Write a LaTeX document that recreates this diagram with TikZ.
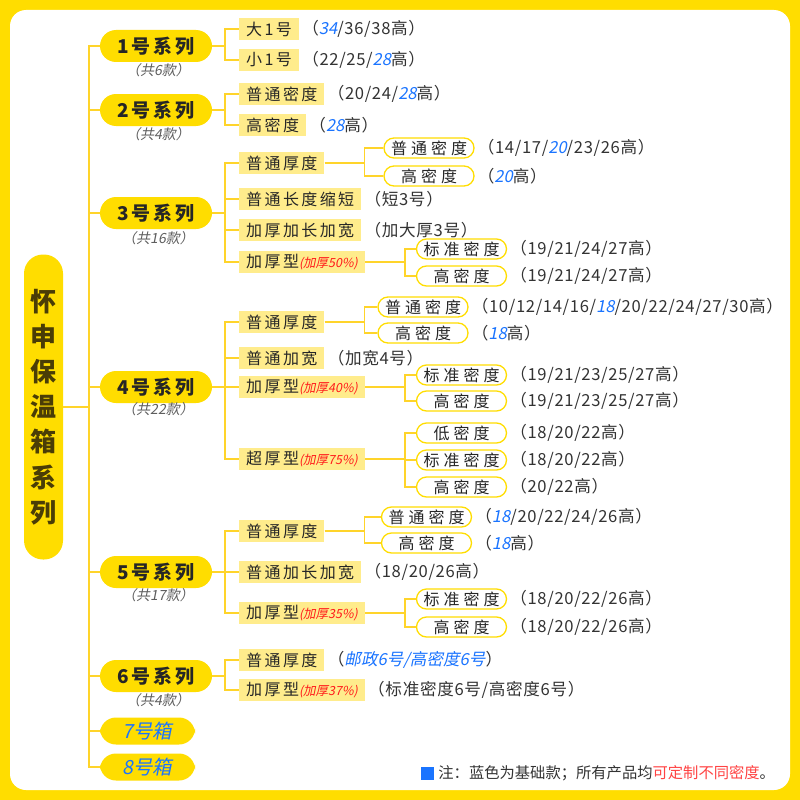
\documentclass[tikz,border=0pt]{standalone}
\usepackage{fontspec}
\setmainfont{Noto Sans CJK SC}
\newfontfamily\cjk{Noto Sans CJK SC}
\newfontfamily\spaced[LetterSpace=15]{Noto Sans CJK SC}
\newfontfamily\wide[LetterSpace=25]{Noto Sans CJK SC}
\newfontfamily\valfont[LetterSpace=4]{Noto Sans CJK SC}
\newfontfamily\slfont[FakeSlant=0.2]{Noto Sans CJK SC}
\usetikzlibrary{positioning}

\definecolor{mainY}{HTML}{FFDD00}
\definecolor{lineY}{HTML}{FFD42A}
\definecolor{lightY}{HTML}{FFEC8C}
\definecolor{blueC}{HTML}{1A74FF}
\definecolor{redC}{HTML}{FF1A1A}
\definecolor{redN}{HTML}{FF4343}
\definecolor{grayC}{HTML}{5E5E5E}
\definecolor{txtDark}{HTML}{262626}
\definecolor{txtVal}{HTML}{333333}
\definecolor{rootTxt}{HTML}{4A3D06}

\newcommand\blu[1]{{\color{blueC}\slfont #1}}
\newcommand\pct[1]{{\color{redC}\slfont\fontsize{12.5}{14}\selectfont(#1)}}

\begin{document}
\begin{tikzpicture}[
    x=1pt, y=-1pt,
    font=\cjk\fontsize{16}{19}\selectfont,
    ln/.style={draw=lineY, line width=1.6pt},
    rootbox/.style={rectangle, rounded corners=19pt, fill=mainY, minimum width=39pt, minimum height=305pt, inner sep=0pt, align=center, font=\cjk\bfseries\fontsize{26}{35.2}\selectfont, text=rootTxt},
    series/.style={rectangle, rounded corners=16pt, fill=mainY, minimum width=112pt, minimum height=32pt, inner sep=0pt, font=\spaced\bfseries\fontsize{19}{22}\selectfont, text=txtDark},
    boxnum/.style={series, minimum width=95pt, minimum height=27pt, font=\slfont\fontsize{19.5}{22}\selectfont, text=blueC},
    cnt/.style={inner sep=0pt, font=\slfont\fontsize{14}{16}\selectfont, text=grayC},
    kind/.style={rectangle, fill=lightY, anchor=west, minimum height=22pt, inner xsep=7pt, inner ysep=0pt, font=\spaced\fontsize{16}{19}\selectfont, text=txtDark},
    dens/.style={rectangle, rounded corners=10pt, draw=mainY, line width=1.3pt, fill=white, minimum width=90pt, minimum height=20pt, inner sep=0pt, font=\wide\fontsize{16}{19}\selectfont, text=txtDark},
    val/.style={anchor=west, inner sep=0pt, xshift=3pt, text=txtVal, font=\valfont\fontsize{16.6}{19}\selectfont}
]

%% ── Frame ────────────────────────────────────────────────────────────────────
\fill[mainY] (0,0) rectangle (800,800);
\fill[white, rounded corners=16pt] (10,10) rectangle (790,790);

%% ── Root ─────────────────────────────────────────────────────────────────────
\node[rootbox] (root) at (43.5,407) {怀\\申\\保\\温\\箱\\系\\列};

%% ── Series pills (x=156) ─────────────────────────────────────────────────────
\node[series] (s1) at (156,46)  {1号系列};
\node[series] (s2) at (156,110) {2号系列};
\node[series] (s3) at (156,213) {3号系列};
\node[series] (s4) at (156,387) {4号系列};
\node[series] (s5) at (156,572) {5号系列};
\node[series] (s6) at (156,676) {6号系列};
\node[boxnum] (s7) at (147.5,731) {7号箱};
\node[boxnum] (s8) at (147.5,767) {8号箱};

\node[cnt] (n1) at (158,70)  {（共6款）};
\node[cnt] (n2) at (158,134) {（共4款）};
\node[cnt] (n3) at (158,238) {（共16款）};
\node[cnt] (n4) at (158,409) {（共22款）};
\node[cnt] (n5) at (158,595) {（共17款）};
\node[cnt] (n6) at (158,700) {（共4款）};

%% ── Kinds (x=239) ────────────────────────────────────────────────────────────
\node[kind] (a1) at (239,29)  {大1号};
\node[kind] (a2) at (239,60)  {小1号};
\node[kind] (b1) at (239,94)  {普通密度};
\node[kind] (b2) at (239,125) {高密度};
\node[kind] (c1) at (239,163) {普通厚度};
\node[kind] (c2) at (239,199) {普通长度缩短};
\node[kind] (c3) at (239,230) {加厚加长加宽};
\node[kind] (c4) at (239,262) {加厚型\pct{加厚50\%}};
\node[kind] (d1) at (239,322) {普通厚度};
\node[kind] (d2) at (239,358) {普通加宽};
\node[kind] (d3) at (239,387) {加厚型\pct{加厚40\%}};
\node[kind] (d4) at (239,459) {超厚型\pct{加厚75\%}};
\node[kind] (e1) at (239,531) {普通厚度};
\node[kind] (e2) at (239,572) {普通加长加宽};
\node[kind] (e3) at (239,613) {加厚型\pct{加厚35\%}};
\node[kind] (f1) at (239,660) {普通厚度};
\node[kind] (f2) at (239,690) {加厚型\pct{加厚37\%}};

%% ── Densities ────────────────────────────────────────────────────────────────
\node[dens] (c1a) at (429,148)   {普通密度};
\node[dens] (c1b) at (429,176)   {高密度};
\node[dens] (c4a) at (461.5,249) {标准密度};
\node[dens] (c4b) at (461.5,276) {高密度};
\node[dens] (d1a) at (423,307)   {普通密度};
\node[dens] (d1b) at (423,333)   {高密度};
\node[dens] (d3a) at (461.5,375) {标准密度};
\node[dens] (d3b) at (461.5,401) {高密度};
\node[dens] (d4a) at (461.5,433) {低密度};
\node[dens] (d4b) at (461.5,460) {标准密度};
\node[dens] (d4c) at (461.5,487) {高密度};
\node[dens] (e1a) at (426.5,517) {普通密度};
\node[dens] (e1b) at (426.5,543) {高密度};
\node[dens] (e3a) at (461.5,599) {标准密度};
\node[dens] (e3b) at (461.5,627) {高密度};

%% ── Heights ──────────────────────────────────────────────────────────────────
\node[val] (va1) at (a1.east) {（\blu{34}/36/38高）};
\node[val] (va2) at (a2.east) {（22/25/\blu{28}高）};
\node[val] (vb1) at (b1.east) {（20/24/\blu{28}高）};
\node[val] (vb2) at (b2.east) {（\blu{28}高）};
\node[val] (vc1a) at (c1a.east) {（14/17/\blu{20}/23/26高）};
\node[val] (vc1b) at (c1b.east) {（\blu{20}高）};
\node[val] (vc2) at (c2.east) {（短3号）};
\node[val] (vc3) at (c3.east) {（加大厚3号）};
\node[val] (vc4a) at (c4a.east) {（19/21/24/27高）};
\node[val] (vc4b) at (c4b.east) {（19/21/24/27高）};
\node[val] (vd1a) at (d1a.east) {（10/12/14/16/\blu{18}/20/22/24/27/30高）};
\node[val] (vd1b) at (d1b.east) {（\blu{18}高）};
\node[val] (vd2) at (d2.east) {（加宽4号）};
\node[val] (vd3a) at (d3a.east) {（19/21/23/25/27高）};
\node[val] (vd3b) at (d3b.east) {（19/21/23/25/27高）};
\node[val] (vd4a) at (d4a.east) {（18/20/22高）};
\node[val] (vd4b) at (d4b.east) {（18/20/22高）};
\node[val] (vd4c) at (d4c.east) {（20/22高）};
\node[val] (ve1a) at (e1a.east) {（\blu{18}/20/22/24/26高）};
\node[val] (ve1b) at (e1b.east) {（\blu{18}高）};
\node[val] (ve2) at (e2.east) {（18/20/26高）};
\node[val] (ve3a) at (e3a.east) {（18/20/22/26高）};
\node[val] (ve3b) at (e3b.east) {（18/20/22/26高）};
\node[val] (vf1) at (f1.east) {（\blu{邮政6号/高密度6号}）};
\node[val] (vf2) at (f2.east) {（标准密度6号/高密度6号）};

%% ── Note ─────────────────────────────────────────────────────────────────────
\node[fill=blueC, minimum size=13pt, inner sep=0pt] (sq) at (427.5,773.5) {};
\node[anchor=west, inner sep=0pt, xshift=4pt, text=txtVal, font=\cjk\fontsize{15.3}{18}\selectfont] (note) at (sq.east)
  {注：蓝色为基础款；所有产品均{\color{redN}可定制不同密度}。};

%% ── Root → series ────────────────────────────────────────────────────────────
\draw[ln] (root.east) -- ++(26,0) |- (s1.west); \draw[ln] (root.east) -- ++(26,0) |- (s2.west);
\draw[ln] (root.east) -- ++(26,0) |- (s3.west); \draw[ln] (root.east) -- ++(26,0) |- (s4.west);
\draw[ln] (root.east) -- ++(26,0) |- (s5.west); \draw[ln] (root.east) -- ++(26,0) |- (s6.west);
\draw[ln] (root.east) -- ++(26,0) |- (s7.west); \draw[ln] (root.east) -- ++(26,0) |- (s8.west);

%% ── Series → kinds ───────────────────────────────────────────────────────────
\draw[ln] (s1.east) -- ++(13,0) |- (a1.west); \draw[ln] (s1.east) -- ++(13,0) |- (a2.west);
\draw[ln] (s2.east) -- ++(13,0) |- (b1.west); \draw[ln] (s2.east) -- ++(13,0) |- (b2.west);
\draw[ln] (s3.east) -- ++(13,0) |- (c1.west); \draw[ln] (s3.east) -- ++(13,0) |- (c2.west);
\draw[ln] (s3.east) -- ++(13,0) |- (c3.west); \draw[ln] (s3.east) -- ++(13,0) |- (c4.west);
\draw[ln] (s4.east) -- ++(13,0) |- (d1.west); \draw[ln] (s4.east) -- ++(13,0) |- (d2.west);
\draw[ln] (s4.east) -- ++(13,0) |- (d3.west); \draw[ln] (s4.east) -- ++(13,0) |- (d4.west);
\draw[ln] (s5.east) -- ++(13,0) |- (e1.west); \draw[ln] (s5.east) -- ++(13,0) |- (e2.west);
\draw[ln] (s5.east) -- ++(13,0) |- (e3.west);
\draw[ln] (s6.east) -- ++(13,0) |- (f1.west); \draw[ln] (s6.east) -- ++(13,0) |- (f2.west);

%% ── Kinds → densities ────────────────────────────────────────────────────────
\draw[ln] (c1.east) -- ++(40,0) |- (c1a.west); \draw[ln] (c1.east) -- ++(40,0) |- (c1b.west);
\draw[ln] (c4.east) -- ++(40,0) |- (c4a.west); \draw[ln] (c4.east) -- ++(40,0) |- (c4b.west);
\draw[ln] (d1.east) -- ++(40,0) |- (d1a.west); \draw[ln] (d1.east) -- ++(40,0) |- (d1b.west);
\draw[ln] (d3.east) -- ++(40,0) |- (d3a.west); \draw[ln] (d3.east) -- ++(40,0) |- (d3b.west);
\draw[ln] (d4.east) -- ++(40,0) |- (d4a.west); \draw[ln] (d4.east) -- ++(40,0) |- (d4b.west);
\draw[ln] (d4.east) -- ++(40,0) |- (d4c.west);
\draw[ln] (e1.east) -- ++(40,0) |- (e1a.west); \draw[ln] (e1.east) -- ++(40,0) |- (e1b.west);
\draw[ln] (e3.east) -- ++(40,0) |- (e3a.west); \draw[ln] (e3.east) -- ++(40,0) |- (e3b.west);

\end{tikzpicture}
\end{document}
